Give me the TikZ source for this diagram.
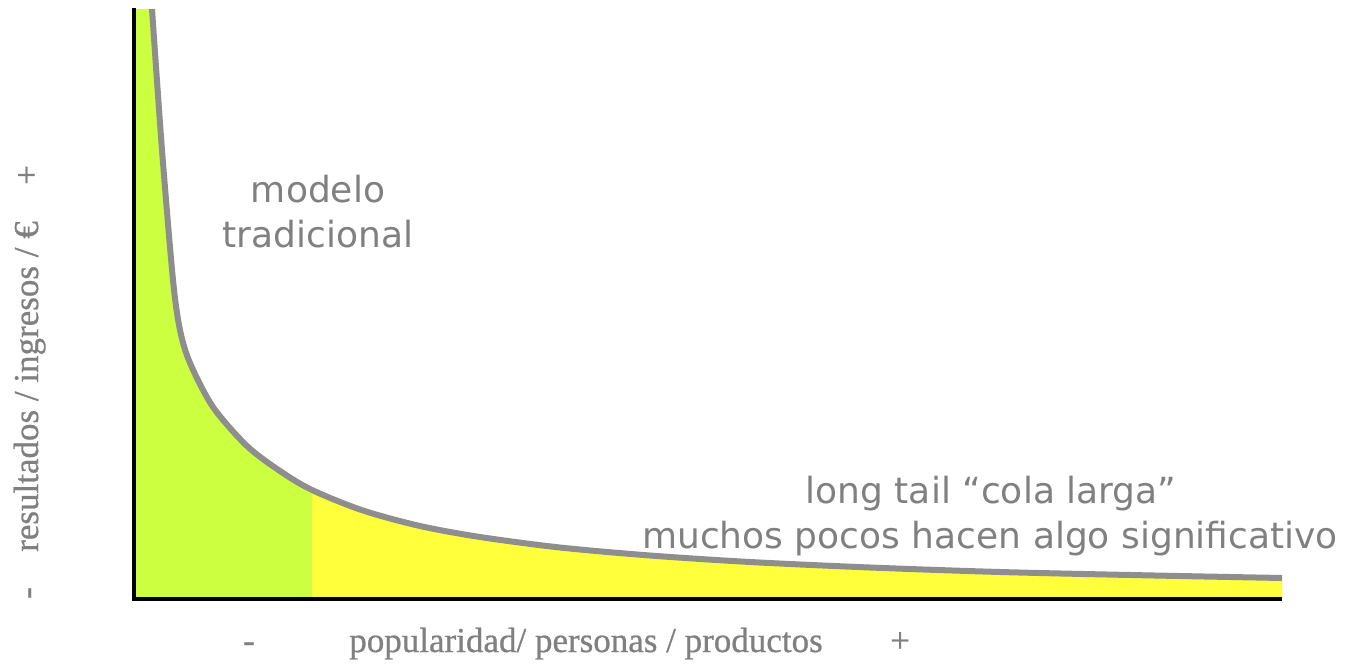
\documentclass[tikz,border=0pt]{standalone}
\usepackage{fontspec}
\setmainfont{Liberation Serif}
\newfontfamily\labelsans{DejaVu Sans}
\newfontfamily\axisserif[FakeBold=0.7]{Liberation Serif}
\definecolor{headgreen}{HTML}{CCFF40}
\definecolor{tailyellow}{HTML}{FFFF3C}
\definecolor{curvegray}{HTML}{8E8E8E}
\definecolor{textgray}{HTML}{808080}
\tikzset{
  sanslabel/.style={text=textgray, inner sep=0pt, anchor=base, font=\labelsans\fontsize{36}{45}\selectfont},
  seriflabel/.style={text=textgray, inner sep=0pt, anchor=base, font=\axisserif\fontsize{35}{42}\selectfont},
  axisline/.style={draw=black, line width=4},
  tailcurve/.style={draw=curvegray, line width=6, line cap=butt}
}
\def\tailpts{(152,9) (162,150) (173,280) (180,330) (190,363) (213,407) (247,446) (280,471) (312,490) (363,510.5) (420,526) (480,537) (560,547.5) (650,555.5) (750,562) (870,567.5) (1000,572) (1140,575.2) (1282,578)}
\begin{document}
\begin{tikzpicture}[x=1pt,y=-1pt]
\useasboundingbox (0,0) rectangle (1347,664);
\fill[white] (0,0) rectangle (1347,664);
% yellow area under the curve
\fill[tailyellow] plot[smooth] coordinates {(152,9) (162,150) (173,280) (180,330) (190,363) (213,407) (247,446) (280,471) (312,490) (363,510.5) (420,526) (480,537) (560,547.5) (650,555.5) (750,562) (870,567.5) (1000,572) (1140,575.2) (1282,578)} -- (1282,599) -- (135,599) -- (135,9) -- cycle;
% green head
\begin{scope}
\clip (135,0) rectangle (312,600);
\fill[headgreen] plot[smooth] coordinates {(152,9) (162,150) (173,280) (180,330) (190,363) (213,407) (247,446) (280,471) (312,490) (363,510.5) (420,526) (480,537) (560,547.5) (650,555.5) (750,562) (870,567.5) (1000,572) (1140,575.2) (1282,578)} -- (1282,599) -- (135,599) -- (135,9) -- cycle;
\end{scope}
% curve
\draw[tailcurve] plot[smooth] coordinates {(152,9) (162,150) (173,280) (180,330) (190,363) (213,407) (247,446) (280,471) (312,490) (363,510.5) (420,526) (480,537) (560,547.5) (650,555.5) (750,562) (870,567.5) (1000,572) (1140,575.2) (1282,578)};
% axes
\coordinate (ytop) at (134,8);
\coordinate (ybottom) at (134,601);
\coordinate (xstart) at (132,599);
\coordinate (xend) at (1282,599);
\draw[axisline] (ytop) -- (ybottom);
\draw[axisline] (xstart) -- (xend);
% texts
\node[sanslabel] (trad1) at (318,202) {modelo};
\node[sanslabel] (trad2) at (318,247) {tradicional};
\node[sanslabel] (tail1) at (991,503) {long tail “cola larga”};
\node[sanslabel] (tail2) at (990,548) {muchos pocos hacen algo significativo};
\node[seriflabel] (xminus) at (249,652) {-};
\node[seriflabel] (xlabel) at (586,652) {popularidad/ personas / productos};
\node[seriflabel] (xplus) at (900,652) {+};
\node[seriflabel, rotate=90] (yminus) at (38,593) {-};
\node[seriflabel, rotate=90, anchor=base west] (ylabel) at (38,552) {resultados / ingresos / €};
\node[seriflabel, rotate=90] (yplus) at (38,175) {+};
\end{tikzpicture}
\end{document}
